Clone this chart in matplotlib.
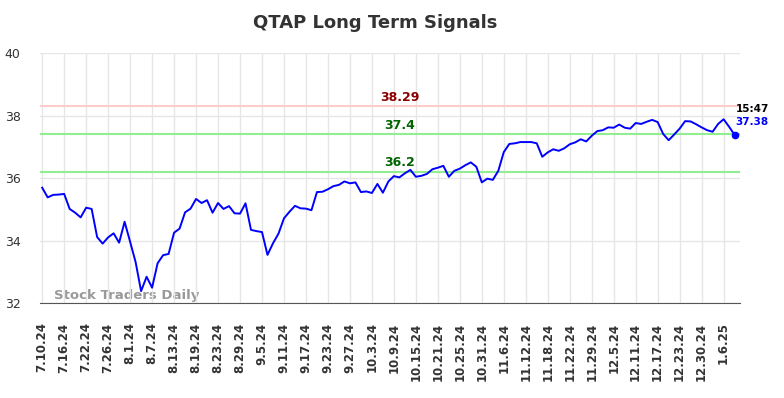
import matplotlib
matplotlib.use("Agg")
import matplotlib.pyplot as plt

# closing prices, one per trading day from 7.10.24 to 1.8.25
prices = [
    35.69, 35.38, 35.46, 35.47, 35.49, 35.01, 34.89, 34.74, 35.05, 35.01,
    34.11, 33.90, 34.10, 34.23, 33.93, 34.60, 33.96, 33.31, 32.38, 32.84,
    32.49, 33.27, 33.53, 33.57, 34.25, 34.38, 34.90, 35.02, 35.33, 35.20,
    35.29, 34.89, 35.20, 35.01, 35.10, 34.87, 34.86, 35.19, 34.34, 34.30,
    34.27, 33.54, 33.91, 34.22, 34.71, 34.92, 35.11, 35.03, 35.02, 34.97,
    35.55, 35.56, 35.64, 35.74, 35.78, 35.89, 35.83, 35.86, 35.55, 35.57,
    35.52, 35.81, 35.53, 35.89, 36.06, 36.02, 36.15, 36.26, 36.04, 36.07,
    36.13, 36.28, 36.33, 36.39, 36.04, 36.23, 36.30, 36.41, 36.50, 36.36,
    35.86, 35.98, 35.94, 36.23, 36.83, 37.09, 37.11, 37.15, 37.15, 37.15,
    37.11, 36.68, 36.82, 36.92, 36.87, 36.95, 37.08, 37.14, 37.24, 37.17,
    37.35, 37.50, 37.53, 37.62, 37.61, 37.71, 37.61, 37.58, 37.76, 37.73,
    37.80, 37.86, 37.79, 37.41, 37.21, 37.39, 37.58, 37.82, 37.81, 37.72,
    37.62, 37.53, 37.48, 37.73, 37.88, 37.64, 37.38,
]

tick_labels = [
    "7.10.24", "7.16.24", "7.22.24", "7.26.24", "8.1.24", "8.7.24", "8.13.24",
    "8.19.24", "8.23.24", "8.29.24", "9.5.24", "9.11.24", "9.17.24", "9.23.24",
    "9.27.24", "10.3.24", "10.9.24", "10.15.24", "10.21.24", "10.25.24",
    "10.31.24", "11.6.24", "11.12.24", "11.18.24", "11.22.24", "11.29.24",
    "12.5.24", "12.11.24", "12.17.24", "12.23.24", "12.30.24", "1.6.25",
]
tick_step = 4

resistance = 38.29
support_hi = 37.4
support_lo = 36.2
last_time = "15:47"

fig = plt.figure(figsize=(7.84, 3.98), dpi=100)
ax = fig.add_axes([0.051, 0.2387, 0.893, 0.6281])

x = list(range(len(prices)))
ax.plot(x, prices, color="#0000ff", lw=1.4, zorder=3)
ax.plot(x[-1], prices[-1], "o", color="#0000ff", ms=4.5, zorder=4)

ax.axhline(resistance, color="#ffcccc", lw=1.5, zorder=2)
ax.axhline(support_hi, color="#90ee90", lw=1.5, zorder=2)
ax.axhline(support_lo, color="#90ee90", lw=1.5, zorder=2)

mid = 65
ax.text(mid, resistance + 0.08, f"{resistance}", color="#8b0000", ha="center",
        va="bottom", fontsize=9, fontweight="bold")
ax.text(mid, support_hi + 0.08, f"{support_hi}", color="#006400", ha="center",
        va="bottom", fontsize=9, fontweight="bold")
ax.text(mid, support_lo + 0.08, f"{support_lo}", color="#006400", ha="center",
        va="bottom", fontsize=9, fontweight="bold")

ax.text(x[-1] + 0.2, 38.2, last_time, color="black", ha="left", va="center",
        fontsize=7.5, fontweight="bold")
ax.text(x[-1] + 0.2, 37.78, f"{prices[-1]}", color="#0000ff", ha="left",
        va="center", fontsize=7.5, fontweight="bold")

ax.text(2.2, 32.02, "Stock Traders Daily", color="#999999", fontsize=9.5,
        fontweight="bold", ha="left", va="bottom", zorder=1)

ax.set_xlim(-0.4, 127)
ax.set_ylim(32, 40)
ax.set_yticks([32, 34, 36, 38, 40])
ax.set_xticks(range(0, len(tick_labels) * tick_step, tick_step))
ax.set_xticklabels(tick_labels, rotation=90, fontsize=8.5, fontweight="bold",
                   color="#333333")
ax.tick_params(axis="y", labelsize=9, colors="#333333", length=0, pad=14)
ax.tick_params(axis="x", length=0, pad=14)

ax.grid(True, color="#e6e6e6", lw=1, zorder=0)
for side in ["top", "right", "left"]:
    ax.spines[side].set_visible(False)
ax.spines["bottom"].set_color("#555555")

fig.suptitle("QTAP Long Term Signals", x=0.478, y=0.965, fontsize=13,
             fontweight="bold", color="#333333")

fig.savefig("out.png", dpi=100)
